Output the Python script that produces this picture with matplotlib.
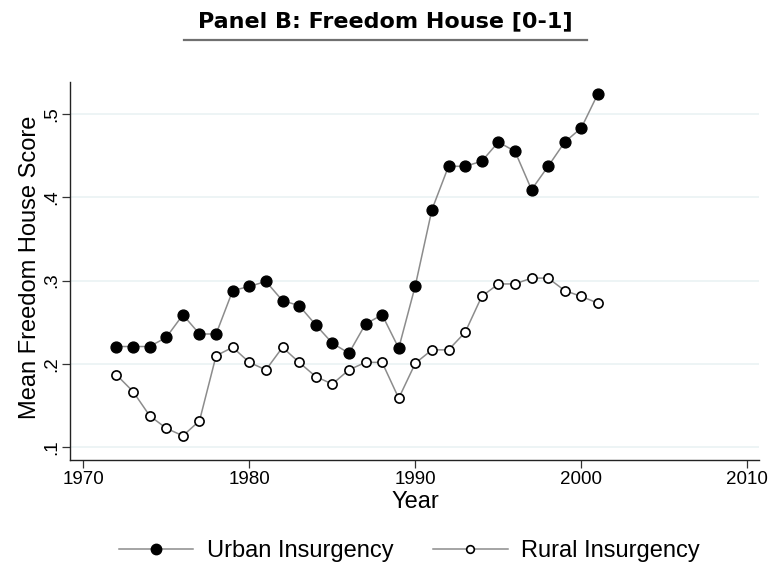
import matplotlib
matplotlib.use("Agg")
import matplotlib.pyplot as plt
from matplotlib.lines import Line2D

plt.rcParams['font.family'] = ['Liberation Sans', 'DejaVu Sans']

years = list(range(1972, 2002))
urban = [0.221, 0.221, 0.221, 0.232, 0.259, 0.236, 0.236, 0.288, 0.293, 0.299,
         0.276, 0.270, 0.247, 0.225, 0.213, 0.248, 0.259, 0.219, 0.294, 0.385,
         0.437, 0.437, 0.443, 0.466, 0.455, 0.409, 0.437, 0.466, 0.483, 0.524]
rural = [0.187, 0.167, 0.138, 0.123, 0.114, 0.132, 0.210, 0.220, 0.202, 0.193,
         0.220, 0.202, 0.185, 0.176, 0.193, 0.202, 0.202, 0.159, 0.201, 0.217,
         0.217, 0.238, 0.281, 0.296, 0.296, 0.303, 0.303, 0.288, 0.281, 0.273]

xticks = [1970, 1980, 1990, 2000, 2010]
yticks = [0.1, 0.2, 0.3, 0.4, 0.5]
ytick_labels = [".1", ".2", ".3", ".4", ".5"]

W, H = 772, 569
fig = plt.figure(figsize=(W / 100, H / 100), dpi=100)
# axes box in pixels: left 70, right 759, top 82, bottom 460
ax = fig.add_axes([70 / W, 1 - 460 / H, 689 / W, 378 / H])

line_col = "#8c8c8c"
ax.plot(years, urban, color=line_col, lw=1.1, marker="o", ms=7.8,
        mfc="black", mec="black", zorder=3)
ax.plot(years, rural, color=line_col, lw=1.1, marker="o", ms=6.6,
        mfc="white", mec="black", mew=1.2, zorder=3)

ax.set_xlim(1969.2, 2010.7)
ax.set_ylim(0.085, 0.538)
ax.set_xticks(xticks)
ax.set_yticks(yticks)
ax.set_yticklabels(ytick_labels, rotation=90, va="center")
ax.tick_params(axis="both", direction="out", length=5.8, width=0.9,
               labelsize=13.5, color="#333333")
ax.tick_params(axis="x", pad=1.9)
ax.tick_params(axis="y", pad=1.5)
ax.grid(axis="y", color="#eaf2f3", lw=1.2)
ax.set_axisbelow(True)
for s in ["top", "right"]:
    ax.spines[s].set_visible(False)
for s in ["left", "bottom"]:
    ax.spines[s].set_color("#222222")
    ax.spines[s].set_linewidth(1)

ax.set_xlabel("Year", fontsize=17)
ax.xaxis.set_label_coords((415 - 70) / 689, -(491 - 460) / 378)
ax.set_ylabel("Mean Freedom House Score", fontsize=17)
ax.yaxis.set_label_coords(-(70 - 41) / 689, (460 - 267) / 378)

# title with gray rule underneath
fig.text(385 / W, 1 - 21 / H, "Panel B: Freedom House [0-1]", ha="center", va="center",
         fontsize=16, fontweight="bold", family=["DejaVu Sans"])
fig.add_artist(Line2D([184 / W, 587 / W], [1 - 40 / H, 1 - 40 / H], color="#707070", lw=1.6))

handles = [
    Line2D([], [], color=line_col, lw=1.1, marker="o", ms=7.5, mfc="black", mec="black"),
    Line2D([], [], color=line_col, lw=1.1, marker="o", ms=5.5, mfc="white", mec="black", mew=1.2),
]
fig.legend(handles, ["Urban Insurgency", "Rural Insurgency"], loc="center",
           bbox_to_anchor=(409 / W, 1 - 551 / H), ncol=2, frameon=False,
           fontsize=17, handlelength=3.17, columnspacing=1.67, handletextpad=0.56,
           borderpad=0, borderaxespad=0)

fig.savefig("out.png", dpi=100)
